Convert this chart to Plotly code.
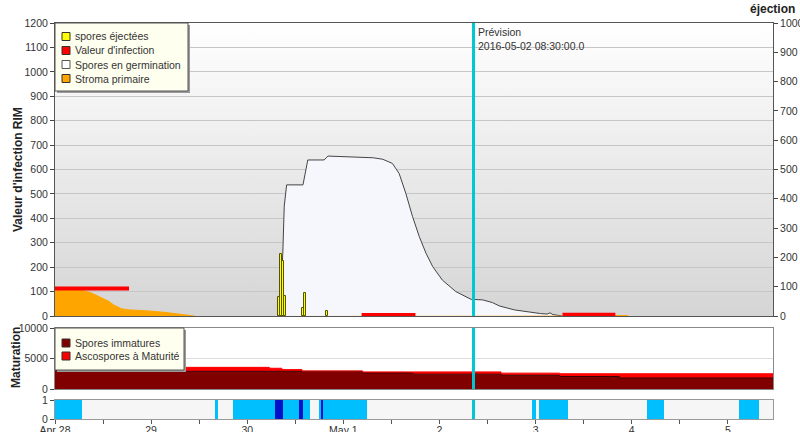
import base64
import pandas as pd
import plotly.graph_objects as go
from plotly.subplots import make_subplots

# ---------------- data (days counted from 2016-04-28 00:00) ----------------
START = pd.Timestamp("2016-04-28 00:00")
END_DAYS = 7.47
PREVISION = "2016-05-02 08:30:00"
PREVISION_LABEL = "Prévision<br>2016-05-02 08:30:00.0"

stroma_days = [0, 0.28, 0.375, 0.46, 0.56, 0.61, 0.69, 0.77, 0.93, 1.14, 1.29, 1.40, 1.45,
               None, 5.83, 5.96]
stroma_vals = [105, 105, 95, 80, 60, 45, 30, 25, 22, 15, 8, 2, 0,
               None, 2, 2]

germ_days = [0, 0.6, None, 2.32, 2.35, 2.37, 2.385, 2.41, 2.58, 2.63, 2.80, 2.84, 3.11,
             3.31, 3.41, 3.51, 3.58, 3.65, 3.72, 3.79, 3.86, 3.93, 4.03, 4.17, 4.33,
             4.45, 4.55, 4.625, 4.78, 4.94, 5.05, 5.12, 5.15, 5.18, 5.28]
germ_vals = [0, 0, None, 0, 100, 257, 450, 537, 537, 639, 639, 655, 650,
             648, 642, 625, 584, 502, 407, 325, 257, 202, 147, 100, 68,
             66, 55, 41, 25, 15, 10, 8, 13, 6, 0]

infect_days = [0, 0.77, None, 3.19, 3.75, None, 5.28, 5.83]
infect_vals = [113, 113, None, 4, 4, None, 5, 5]

eject_times = ["2016-04-30 08:00", "2016-04-30 08:30", "2016-04-30 09:00", "2016-04-30 09:30",
               "2016-04-30 14:00", "2016-04-30 14:30", "2016-04-30 20:00"]
eject_vals = [66, 212, 188, 69, 28, 78, 18]

mat_days = [0, 0.18, 0.84, 2.23, 2.36, 2.57, 3.2, 3.72, 4.64, 5.25, 5.875, 7.47]
immature_vals = [3200, 2900, 2900, 2900, 2900, 2900, 2630, 2430, 2250, 2050, 1800, 1800]
mature_vals = [100, 150, 650, 500, 280, 60, 170, 370, 350, 450, 700, 700]

wet_light = [(0, 0.28), (1.667, 1.70), (1.854, 2.29), (2.375, 2.54), (2.58, 2.65),
             (2.75, 2.765), (2.79, 3.25), (4.96, 5.0), (5.04, 5.34), (6.16, 6.34), (7.12, 7.32)]
wet_dark = [(2.29, 2.375), (2.54, 2.58), (2.765, 2.79)]

tick_days = [i * 0.5 for i in range(15)]
tick_text = ["Apr 28", "", "29", "", "30", "", "May 1", "", "2", "", "3", "", "4", "", "5"]


def to_time(days):
    return [None if d is None else START + pd.to_timedelta(d, unit="D") for d in days]


FONT = "Liberation Sans, Arial, sans-serif"
TXT = "#333333"
FS = 10.5

fig = make_subplots(rows=3, cols=1, shared_xaxes=True,
                    specs=[[{"secondary_y": True}], [{}], [{}]])

# main panel
fig.add_trace(go.Scatter(x=to_time(germ_days), y=germ_vals, mode="lines", fill="tozeroy",
                         fillcolor="#f6f7fd", line=dict(color="#444444", width=1),
                         connectgaps=False, showlegend=False, hoverinfo="skip"),
              row=1, col=1, secondary_y=False)
fig.add_trace(go.Scatter(x=to_time(stroma_days), y=stroma_vals, mode="lines", fill="tozeroy",
                         fillcolor="#ffa500", line=dict(color="#ffa500", width=1),
                         connectgaps=False, showlegend=False),
              row=1, col=1, secondary_y=False)
fig.add_trace(go.Scatter(x=to_time(infect_days), y=infect_vals, mode="lines",
                         line=dict(color="#ff0000", width=4), connectgaps=False,
                         showlegend=False),
              row=1, col=1, secondary_y=False)
fig.add_trace(go.Bar(x=pd.to_datetime(eject_times), y=eject_vals, width=1.6e6,
                     marker=dict(color="#ffff00", line=dict(color="#555500", width=1)),
                     showlegend=False),
              row=1, col=1, secondary_y=True)

# maturation panel
mt = to_time(mat_days)
fig.add_trace(go.Scatter(x=mt, y=immature_vals, mode="lines", stackgroup="m",
                         line=dict(color="#3a0000", width=1, shape="hv"),
                         fillcolor="#800000", showlegend=False), row=2, col=1)
fig.add_trace(go.Scatter(x=mt, y=mature_vals, mode="lines", stackgroup="m",
                         line=dict(color="#ff0000", width=1, shape="hv"),
                         fillcolor="#ff0000", showlegend=False), row=2, col=1)

# wetness panel
for intervals, color in ((wet_light, "#00bfff"), (wet_dark, "#0010c8")):
    mids = [START + pd.to_timedelta((a + b) / 2, unit="D") for a, b in intervals]
    widths = [(b - a) * 86400000 for a, b in intervals]
    fig.add_trace(go.Bar(x=mids, y=[1] * len(intervals), width=widths,
                         marker=dict(color=color, line=dict(width=0)),
                         showlegend=False), row=3, col=1)

# ---------------- layout ----------------
W, H = 800, 432
ML, MR, MT, MB = 55, 27, 23, 13
PW, PH = W - ML - MR, H - MT - MB


def px(x):
    return (x - ML) / PW


def py(y):
    return (H - MB - y) / PH


x_range = [START, START + pd.to_timedelta(END_DAYS, unit="D")]
tickvals = to_time(tick_days)

fig.update_layout(
    width=W, height=H, margin=dict(l=ML, r=MR, t=MT, b=MB, autoexpand=False),
    paper_bgcolor="white", plot_bgcolor="white", barmode="overlay", bargap=0,
    font=dict(family=FONT, size=FS, color=TXT), showlegend=False,
)

ax_common = dict(showline=True, mirror=True, ticks="outside", ticklen=4, automargin=False,
                 tickcolor="#444444", tickfont=dict(size=FS, color=TXT), zeroline=False)

fig.update_layout(
    xaxis=dict(domain=[0, 1], range=x_range, showline=True, mirror=True, linecolor="#555555",
               showgrid=False, showticklabels=False, ticks="", zeroline=False,
               automargin=False),
    xaxis2=dict(domain=[0, 1], range=x_range, showline=True, mirror=True,
                linecolor="#888888", showgrid=False, showticklabels=False, ticks="",
                zeroline=False, automargin=False),
    xaxis3=dict(domain=[0, 1], range=x_range, showline=True, mirror=True,
                linecolor="#999999", showgrid=False, tickmode="array", tickvals=tickvals,
                ticktext=tick_text, ticks="outside", ticklen=4, tickcolor="#555555",
                ticklabelstandoff=-3,
                automargin=False, tickfont=dict(size=FS, color=TXT), zeroline=False),
    yaxis=dict(domain=[py(316), 1], range=[0, 1200], dtick=100, linecolor="#555555",
               showgrid=True, gridcolor="#c6c6c6", gridwidth=1, **ax_common),
    yaxis2=dict(range=[0, 1000], dtick=100, showgrid=False, side="right", automargin=False,
                showline=True, linecolor="#555555", ticks="outside", ticklen=4,
                tickcolor="#444444", tickfont=dict(size=FS, color=TXT), zeroline=False),
    yaxis3=dict(domain=[py(389), py(328)], range=[0, 10000], tickmode="array",
                tickvals=[0, 5000, 10000], ticktext=["0", "5000", "10000"],
                linecolor="#888888", showgrid=True, gridcolor="#dcdcdc", **ax_common),
    yaxis4=dict(domain=[0, py(400)], range=[0, 1], tickvals=[0, 1], linecolor="#999999",
                showgrid=False, **ax_common),
)

# gradient background of main panel
svg = ('<svg xmlns="http://www.w3.org/2000/svg" width="10" height="100" '
       'preserveAspectRatio="none"><defs><linearGradient id="g" x1="0" y1="0" x2="0" y2="1">'
       '<stop offset="0" stop-color="#ffffff"/><stop offset="1" stop-color="#d5d5d5"/>'
       '</linearGradient></defs><rect width="10" height="100" fill="url(#g)"/></svg>')
src = "data:image/svg+xml;base64," + base64.b64encode(svg.encode()).decode()
fig.add_layout_image(dict(source=src, xref="x domain", yref="y domain", x=0, y=1,
                          sizex=1, sizey=1, xanchor="left", yanchor="top",
                          sizing="stretch", layer="below"))

# light background for wetness panel
fig.add_shape(type="rect", xref="x3 domain", yref="y4 domain", x0=0, x1=1, y0=0, y1=1,
              fillcolor="#f6f6f6", line=dict(width=0), layer="below")

# prevision lines
for yref in ("y domain", "y3 domain", "y4 domain"):
    fig.add_shape(type="line", xref="x", yref=yref, x0=pd.Timestamp(PREVISION),
                  x1=pd.Timestamp(PREVISION), y0=0, y1=1,
                  line=dict(color="#00c8d2", width=3))
fig.add_annotation(x=pd.Timestamp(PREVISION), y=1, xref="x", yref="y domain",
                   text=PREVISION_LABEL, showarrow=False, xanchor="left", yanchor="top",
                   xshift=2, yshift=-1, align="left", font=dict(size=FS, color=TXT))

# axis titles
fig.add_annotation(x=px(18), y=py(170), xref="paper", yref="paper",
                   text="<b>Valeur d'infection RIM</b>", textangle=-90, showarrow=False,
                   xanchor="center", yanchor="middle",
                   font=dict(size=12, color="#222222"))
fig.add_annotation(x=px(16), y=py(358), xref="paper", yref="paper",
                   text="<b>Maturation</b>", textangle=-90, showarrow=False,
                   xanchor="center", yanchor="middle",
                   font=dict(size=12, color="#222222"))
fig.add_annotation(x=px(797), y=py(9), xref="paper", yref="paper", text="<b>éjection</b>",
                   showarrow=False, xanchor="right", yanchor="middle",
                   font=dict(size=12, color="#222222"))


# hand-drawn legends
def legend_box(x0, y0, x1, y1, items):
    fig.add_shape(type="rect", xref="paper", yref="paper", x0=px(x0 + 2), x1=px(x1 + 2),
                  y0=py(y1 + 2), y1=py(y0 + 2), fillcolor="#9a9a9a", line=dict(width=0))
    fig.add_shape(type="rect", xref="paper", yref="paper", x0=px(x0), x1=px(x1),
                  y0=py(y1), y1=py(y0), fillcolor="#fffff0",
                  line=dict(color="#555555", width=1))
    for (label, fill, edge), yc in items:
        fig.add_shape(type="rect", xref="paper", yref="paper", x0=px(62), x1=px(70),
                      y0=py(yc + 4), y1=py(yc - 4), fillcolor=fill,
                      line=dict(color=edge, width=1))
        fig.add_annotation(x=px(73), y=py(yc), xref="paper", yref="paper", text=label,
                           showarrow=False, xanchor="left", yanchor="middle",
                           font=dict(size=FS, color=TXT))


legend_box(55, 23, 188, 91, [
    (("spores éjectées", "#ffff00", "#333333"), 36.5),
    (("Valeur d'infection", "#ff0000", "#333333"), 50.5),
    (("Spores en germination", "#ffffff", "#555555"), 64.5),
    (("Stroma primaire", "#ffa500", "#333333"), 78.5),
])
legend_box(55, 328, 184, 370, [
    (("Spores immatures", "#800000", "#333333"), 343),
    (("Ascospores à Maturité", "#ff0000", "#333333"), 356),
])

fig.write_html("out.html", config={"displayModeBar": False},
               post_script="document.body.style.margin='0';"
                           "document.body.style.overflow='hidden';")
